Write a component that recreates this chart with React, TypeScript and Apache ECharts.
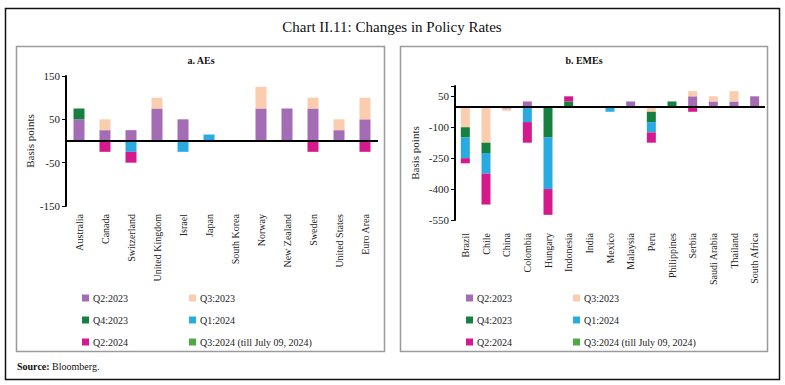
import React, { useEffect, useRef } from "react";
import * as echarts from "echarts";

const aeCategories = ["Australia", "Canada", "Switzerland", "United Kingdom", "Israel", "Japan", "South Korea", "Norway", "New Zealand", "Sweden", "United States", "Euro Area"];
const aeQ2_2023 = [50, 25, 25, 75, 50, 0, 0, 75, 75, 75, 25, 50];
const aeQ3_2023 = [0, 25, 0, 25, 0, 0, 0, 50, 0, 25, 25, 50];
const aeQ4_2023 = [25, 0, 0, 0, 0, 0, 0, 0, 0, 0, 0, 0];
const aeQ1_2024 = [0, 0, -25, 0, -25, 15, 0, 0, 0, 0, 0, 0];
const aeQ2_2024 = [0, -25, -25, 0, 0, 0, 0, 0, 0, -25, 0, -25];
const aeQ3_2024 = [0, 0, 0, 0, 0, 0, 0, 0, 0, 0, 0, 0];

const emeCategories = ["Brazil", "Chile", "China", "Colombia", "Hungary", "Indonesia", "India", "Mexico", "Malaysia", "Peru", "Philippines", "Serbia", "Saudi Arabia", "Thailand", "South Africa"];
const emeQ2_2023 = [0, 0, -10, 25, 0, 0, 0, 0, 25, 0, 0, 50, 25, 25, 50];
const emeQ3_2023 = [-100, -175, -10, 0, 0, 0, 0, 0, 0, -25, 0, 25, 25, 50, 0];
const emeQ4_2023 = [-50, -50, 0, 0, -150, 25, 0, 0, 0, -50, 25, 0, 0, 0, 0];
const emeQ1_2024 = [-100, -100, 0, -75, -250, 0, 0, -25, 0, -50, 0, 0, 0, 0, 0];
const emeQ2_2024 = [-25, -150, 0, -100, -125, 25, 0, 0, 0, -50, 0, -25, 0, 0, 0];
const emeQ3_2024 = [0, 0, 0, 0, 0, 0, 0, 0, 0, 0, 0, 0, 0, 0, 0];

const seriesNames = ["Q2:2023", "Q3:2023", "Q4:2023", "Q1:2024", "Q2:2024", "Q3:2024 (till July 09, 2024)"];
const seriesColors = ["#A36CB4", "#FACDAF", "#178040", "#29ABE2", "#D3198B", "#4FA84A"];

const FONT = "Liberation Serif";

export default function App() {
  const ref = useRef<HTMLDivElement>(null);
  useEffect(() => {
    if (!ref.current) return;
    const chart = echarts.init(ref.current, null, { renderer: "svg" });
    const aeData = [aeQ2_2023, aeQ3_2023, aeQ4_2023, aeQ1_2024, aeQ2_2024, aeQ3_2024];
    const emeData = [emeQ2_2023, emeQ3_2023, emeQ4_2023, emeQ1_2024, emeQ2_2024, emeQ3_2024];
    const zeroLine = {
      silent: true,
      symbol: "none",
      label: { show: false },
      lineStyle: { color: "#000", width: 2, type: "solid" },
      data: [{ yAxis: 0 }],
    };
    const series: any[] = [];
    aeData.forEach((d, i) => {
      series.push({
        type: "bar",
        name: seriesNames[i],
        xAxisIndex: 0,
        yAxisIndex: 0,
        stack: "ae",
        data: d,
        barWidth: 11,
        itemStyle: { color: seriesColors[i] },
        markLine: i === 0 ? zeroLine : undefined,
      });
    });
    emeData.forEach((d, i) => {
      series.push({
        type: "bar",
        name: seriesNames[i],
        xAxisIndex: 1,
        yAxisIndex: 1,
        stack: "eme",
        data: d,
        barWidth: 9,
        itemStyle: { color: seriesColors[i] },
        markLine: i === 0 ? zeroLine : undefined,
      });
    });

    const legendCommon = {
      orient: "vertical",
      itemWidth: 7,
      itemHeight: 7,
      itemGap: 12,
      icon: "rect",
      selectedMode: false,
      textStyle: { fontFamily: FONT, fontSize: 10, color: "#222", padding: [0, 0, 0, -1] },
      padding: 0,
    };
    const col1 = [seriesNames[0], seriesNames[2], seriesNames[4]];
    const col2 = [seriesNames[1], seriesNames[3], seriesNames[5]];

    const xAxisCommon = {
      type: "category",
      axisLine: { show: false },
      axisTick: { show: false },
      axisLabel: { rotate: 90, fontFamily: FONT, fontSize: 10, color: "#222", interval: 0 },
    };
    const yAxisCommon = {
      type: "value",
      splitLine: { show: false },
      axisLine: { show: true, lineStyle: { color: "#000", width: 2 } },
      axisTick: { show: true, length: 4, lineStyle: { color: "#000", width: 1 } },
      nameLocation: "middle",
      nameRotate: 90,
      nameTextStyle: { fontFamily: FONT, fontSize: 11, color: "#222" },
    };

    chart.setOption({
      animation: false,
      backgroundColor: "#fff",
      textStyle: { fontFamily: FONT },
      grid: [
        { left: 66, right: 407, top: 76, bottom: 179 },
        { left: 455, right: 20, top: 86, bottom: 165 },
      ],
      xAxis: [
        { ...xAxisCommon, gridIndex: 0, data: aeCategories, axisLabel: { ...xAxisCommon.axisLabel, margin: 8 } },
        { ...xAxisCommon, gridIndex: 1, data: emeCategories, axisLabel: { ...xAxisCommon.axisLabel, margin: 13 } },
      ],
      yAxis: [
        {
          ...yAxisCommon,
          gridIndex: 0,
          min: -150,
          max: 150,
          interval: 100,
          name: "Basis points",
          nameGap: 30,
          axisLabel: { fontFamily: FONT, fontSize: 11, color: "#222", margin: 6 },
        },
        {
          ...yAxisCommon,
          gridIndex: 1,
          min: -550,
          max: 100,
          interval: 150,
          name: "Basis points",
          nameGap: 35,
          axisLabel: {
            fontFamily: FONT,
            fontSize: 11,
            color: "#222",
            margin: 6,
            formatter: (v: number) => (v === 100 ? "" : String(v)),
          },
        },
      ],
      legend: [
        { ...legendCommon, data: col1, left: 82, top: 293 },
        { ...legendCommon, data: col2, left: 189, top: 293 },
        { ...legendCommon, data: col1, left: 466, top: 293 },
        { ...legendCommon, data: col2, left: 573, top: 293 },
      ],
      graphic: [
        { type: "rect", shape: { x: 5.5, y: 8.5, width: 774, height: 371 }, style: { fill: "none", stroke: "#111", lineWidth: 1.5 }, silent: true },
        { type: "rect", shape: { x: 16.5, y: 46.5, width: 368, height: 305 }, style: { fill: "none", stroke: "#9a9a9a", lineWidth: 1.5 }, silent: true },
        { type: "rect", shape: { x: 400.5, y: 46.5, width: 367, height: 305 }, style: { fill: "none", stroke: "#9a9a9a", lineWidth: 1.5 }, silent: true },
        { type: "text", x: 392, y: 27, style: { text: "Chart II.11: Changes in Policy Rates", fontFamily: FONT, fontSize: 15, fill: "#111", align: "center", verticalAlign: "middle" } },
        { type: "text", x: 201, y: 60, style: { text: "a. AEs", fontFamily: FONT, fontSize: 10, fontWeight: "bold", fill: "#111", align: "center", verticalAlign: "middle" } },
        { type: "text", x: 584, y: 60, style: { text: "b. EMEs", fontFamily: FONT, fontSize: 10, fontWeight: "bold", fill: "#111", align: "center", verticalAlign: "middle" } },
        {
          type: "text",
          x: 17,
          y: 366,
          style: {
            text: "{b|Source:} Bloomberg.",
            fontFamily: FONT,
            fontSize: 10,
            fill: "#111",
            verticalAlign: "middle",
            rich: { b: { fontFamily: FONT, fontSize: 10, fontWeight: "bold", fill: "#111" } },
          },
        },
      ],
      series,
    });
    return () => chart.dispose();
  }, []);
  return <div ref={ref} style={{ position: "fixed", left: 0, top: 0, width: 785, height: 385 }} />;
}
